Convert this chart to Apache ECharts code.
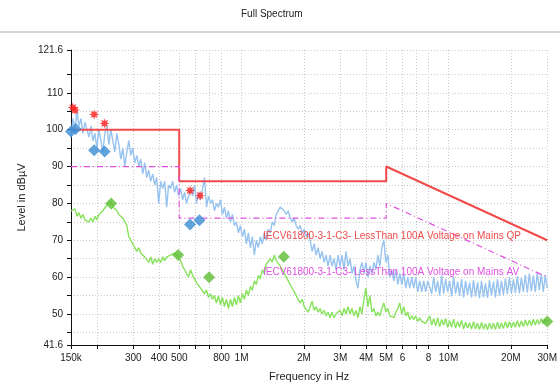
<!DOCTYPE html>
<html>
<head>
<meta charset="utf-8">
<script src="https://cdn.jsdelivr.net/npm/echarts@6/dist/echarts.min.js"></script>
<style>
  html, body { margin: 0; padding: 0; background: #fff; }
  #chart { width: 560px; height: 387px; }
</style>
</head>
<body>
<div id="chart"></div>
<script>
// receiver sweep: 240 points, log spaced from 150 kHz to 30 MHz
var sweepStart = 150000;
var sweepStop = 30000000;
var sweepCount = 240;

// peak detector trace (light blue), dBuV
var peakTrace = [
  98, 103, 100, 105, 101, 103, 99, 102, 100, 98,
  101, 97, 99, 95, 100, 97, 94, 99, 101, 96,
  100, 97, 94, 99, 96, 92, 95, 90, 94, 97,
  93, 95, 91, 93, 90, 92, 88, 91, 87, 89,
  86, 88, 85, 87, 80, 86, 84, 86, 79, 85,
  84, 86, 83, 85, 82, 84, 81, 83, 80, 82,
  84, 82, 85, 80, 83, 81, 84, 87, 79, 82,
  80, 81, 78, 80, 79, 81, 77, 79, 76, 78,
  75, 77, 74, 75, 72, 74, 71, 73, 69, 72,
  68, 71, 66, 70, 68, 71, 69, 72, 70, 73,
  72, 75, 74, 77, 78, 79, 79.5, 78, 77, 78,
  76, 75, 76, 74, 73, 74, 72, 73, 71, 72,
  70, 67, 69, 66, 68, 65, 67, 64, 66, 63,
  66, 63, 65, 62, 66, 63, 66, 62, 67, 63,
  65, 61, 63, 59, 57, 62, 64, 61, 64, 60,
  63, 61, 64, 62, 66, 63, 68, 70, 64, 66,
  60, 62, 59, 62, 58, 61, 58, 61, 57, 60,
  57, 60, 57, 60, 56, 59, 56, 59, 56, 59,
  59.5, 55.5, 60, 56, 59, 55, 60.5, 55.5, 59.5, 56,
  59, 54.8, 60, 55.5, 58.8, 55, 59.5, 54.5, 59, 55.2,
  58.5, 54.5, 59.2, 54.8, 58.6, 54.3, 59, 54.6, 58.4, 54.4,
  59.2, 55, 58.8, 54.5, 59.4, 55, 59, 55.2, 59.6, 55.4,
  60, 55.5, 59.4, 55.8, 60.2, 55.6, 59.8, 56, 60.6, 55.8,
  61, 56.2, 60.4, 56, 61.2, 56.5, 60.8, 56, 60.5, 57
];

// average detector trace (light green), dBuV
var avgTrace = [
  78, 77.5, 78.5, 76.5, 77.5, 76, 77, 75.5, 76, 75,
  76, 75, 76.5, 75.5, 77, 76.5, 78, 78.5, 79.5, 80,
  80.5, 79, 78.5, 78, 77, 77.5, 76, 75.5, 74, 71,
  70, 69.5, 68, 67, 68, 66.5, 67, 65.5, 66, 64,
  65.5, 63.5, 65, 64, 65, 64, 65.5, 64.5, 65.5, 65,
  66, 65.5, 66.5, 66, 65.5, 64.5, 63, 62, 61, 60,
  62, 60.5, 60.5, 58.5, 59, 57, 57.5, 55.5, 56.5, 54.5,
  55.5, 54, 55, 53, 55, 52.5, 54.5, 52, 54, 51.5,
  54, 52, 54.5, 52.5, 55, 53, 55.5, 54, 56.5, 55,
  57.5, 56.5, 59, 58, 60.5, 59.5, 62, 61, 63.5, 63,
  65, 64, 66, 64.5, 65, 63, 63, 61, 61.5, 59,
  59.5, 57, 57.5, 55, 55.5, 53, 54, 52, 52.5, 50.5,
  52, 53.5, 51, 52, 50.5, 51.5, 50, 51, 49.5, 50.5,
  49, 50.5, 49, 50, 49.5, 51, 49.5, 51.5, 50, 52,
  50, 51.5, 49.5, 51, 49, 52, 50, 54, 57, 52,
  55, 50.5, 51.5, 49.5, 50.5, 49.5, 51.5, 53, 50.5, 51.5,
  49.5, 50, 49, 50.5, 51.5, 53, 50, 52, 49.5, 50.5,
  48.5, 49.5, 48.5, 49.5, 48, 49, 48, 48.5, 47.5, 48.5,
  49.5, 47, 48.8, 46.8, 49, 46.5, 48.5, 47, 48.8, 46.4,
  48.2, 46.5, 48.6, 46.2, 48, 46.4, 48.3, 46, 47.8, 46.2,
  47.6, 45.9, 47.9, 46, 47.5, 45.8, 47.7, 45.9, 47.4, 45.7,
  47.6, 45.9, 47.5, 45.8, 47.8, 46, 47.6, 46.1, 47.9, 46.2,
  48, 46.3, 47.8, 46.4, 48.2, 46.5, 48.1, 46.6, 48.4, 46.8,
  48.3, 46.9, 48.6, 47, 48.5, 47.2, 48.8, 47.4, 48.6, 48
];

// IEC 61800-3 C3 (<100 A) limit lines
var limitFreq = [150000, 500000, 500000, 5000000, 5000000, 30000000];
var qpLimit = [100, 100, 86, 86, 90, 70];
var avLimit = [90, 90, 76, 76, 80, 60];

// final measurements
var qpFreq = [150000, 158000, 194000, 218000, 564000, 626000];
var qpLevel = [99.5, 100.2, 94.4, 94.1, 74.3, 75.4];
var peakFreq = [153000, 157000, 194000, 218000, 564000, 631000];
var peakLevel = [106, 105.3, 104.1, 101.7, 83.5, 82.1];
var avFreq = [234600, 494000, 697000, 1600000, 30000000];
var avLevel = [80, 66, 60, 65.5, 48];

// axes
var xTickFreq = [150000, 200000, 300000, 400000, 500000, 600000, 700000, 800000, 1000000,
  2000000, 3000000, 4000000, 5000000, 6000000, 7000000, 8000000, 10000000, 20000000, 30000000];
var xLabelFreq = [150000, 300000, 400000, 500000, 800000, 1000000, 2000000, 3000000,
  4000000, 5000000, 6000000, 8000000, 10000000, 20000000, 30000000];
var xLabelText = ['150k', '300', '400', '500', '800', '1M', '2M', '3M',
  '4M', '5M', '6', '8', '10M', '20M', '30M'];
var yTicks = [41.6, 45, 50, 55, 60, 65, 70, 75, 80, 85, 90, 95, 100, 105, 110, 115, 121.6];
var yLabels = [41.6, 50, 60, 70, 80, 90, 100, 110, 121.6];

var qpText = 'IECV61800-3-1-C3- LessThan 100A Voltage on Mains QP';
var avText = 'IECV61800-3-1-C3- LessThan 100A Voltage on Mains AV';

function lg(f) { return Math.log10(f); }

function pairs(freqs, levels) {
    return freqs.map(function (f, i) { return [lg(f), levels[i]]; });
}

var sweepFreq = [];
for (var i = 0; i < sweepCount; i++) {
    sweepFreq.push(sweepStart * Math.pow(sweepStop / sweepStart, i / (sweepCount - 1)));
}

// asterisk-like marker for peak values
function starPath(n, r1, r2) {
    var s = '';
    for (var k = 0; k < 2 * n; k++) {
        var a = Math.PI * k / n;
        var r = k % 2 ? r2 : r1;
        s += (k ? 'L' : 'M') + (10 + r * Math.sin(a)).toFixed(2) + ' ' + (10 - r * Math.cos(a)).toFixed(2) + ' ';
    }
    return 'path://' + s + 'Z';
}

var fontName = 'Liberation Sans, Arial, sans-serif';
var myChart = echarts.init(document.getElementById('chart'), null, {renderer: 'canvas'});

var option = {
    animation: false,
    backgroundColor: '#fff',
    textStyle: {fontFamily: fontName},
    title: {
        text: 'Full Spectrum',
        left: 236,
        top: 4,
        textStyle: {fontSize: 10, fontWeight: 'normal', color: '#222'}
    },
    graphic: [
        {
            type: 'rect',
            shape: {x: 0, y: 31, width: 560, height: 2},
            style: {fill: '#d6d6d6'},
            silent: true
        },
        {
            type: 'text',
            left: 263,
            top: 231,
            z: 20,
            style: {text: qpText, fill: '#ee4a4a', fontSize: 10, fontFamily: fontName}
        },
        {
            type: 'text',
            left: 263,
            top: 267,
            z: 20,
            style: {text: avText, fill: '#e050e0', fontSize: 10, fontFamily: fontName}
        }
    ],
    grid: {
        left: 71,
        right: 12,
        top: 50,
        bottom: 38,
        containLabel: false
    },
    xAxis: {
        type: 'value',
        min: lg(sweepStart),
        max: lg(sweepStop),
        name: 'Frequency in Hz',
        nameLocation: 'middle',
        nameGap: 26,
        nameTextStyle: {fontSize: 11, color: '#222'},
        axisLine: {lineStyle: {color: '#111', width: 1}},
        axisTick: {
            customValues: xTickFreq.map(lg),
            length: 4,
            lineStyle: {color: '#111'}
        },
        axisLabel: {
            customValues: xLabelFreq.map(lg),
            showMinLabel: true,
            showMaxLabel: true,
            hideOverlap: false,
            fontSize: 10,
            color: '#222',
            margin: 8,
            formatter: function (v) {
                for (var k = 0; k < xLabelFreq.length; k++) {
                    if (Math.abs(lg(xLabelFreq[k]) - v) < 1e-6) return xLabelText[k];
                }
                return '';
            }
        },
        splitLine: {
            show: true,
            lineStyle: {color: '#c8c8c8', type: [1, 2], width: 1}
        }
    },
    yAxis: {
        type: 'value',
        min: 41.6,
        max: 121.6,
        name: 'Level in dBµV',
        nameLocation: 'middle',
        nameGap: 40,
        nameTextStyle: {fontSize: 11, color: '#222'},
        axisLine: {show: true, lineStyle: {color: '#111', width: 1}},
        axisTick: {
            show: true,
            customValues: yTicks,
            length: 4,
            lineStyle: {color: '#111'}
        },
        axisLabel: {
            customValues: yLabels,
            showMinLabel: true,
            showMaxLabel: true,
            fontSize: 10,
            color: '#222',
            margin: 8
        },
        splitLine: {
            show: true,
            lineStyle: {color: '#c8c8c8', type: [1, 2], width: 1}
        }
    },
    series: [
        {
            name: 'peak',
            type: 'line',
            data: pairs(sweepFreq, peakTrace),
            symbol: 'none',
            lineStyle: {color: '#97c3f0', width: 1.4},
            z: 2
        },
        {
            name: 'average',
            type: 'line',
            data: pairs(sweepFreq, avgTrace),
            symbol: 'none',
            lineStyle: {color: '#88e35c', width: 1.4},
            z: 2
        },
        {
            name: 'QP limit',
            type: 'line',
            data: pairs(limitFreq, qpLimit),
            symbol: 'none',
            lineStyle: {color: '#f04a4a', width: 2},
            z: 4
        },
        {
            name: 'AV limit',
            type: 'line',
            data: pairs(limitFreq, avLimit),
            symbol: 'none',
            lineStyle: {color: '#e050e0', width: 1.2, type: [6, 3, 1, 3]},
            z: 4
        },
        {
            name: 'QP final',
            type: 'scatter',
            data: pairs(qpFreq, qpLevel),
            symbol: 'diamond',
            symbolSize: 12,
            itemStyle: {color: '#3a8cd4'},
            z: 6
        },
        {
            name: 'peak final',
            type: 'scatter',
            data: pairs(peakFreq, peakLevel),
            symbol: starPath(8, 6, 3),
            symbolSize: 10,
            itemStyle: {color: '#ff1a1a'},
            z: 6
        },
        {
            name: 'AV final',
            type: 'scatter',
            data: pairs(avFreq, avLevel),
            symbol: 'diamond',
            symbolSize: 12,
            itemStyle: {color: '#5cbe34'},
            z: 6
        }
    ]
};

myChart.setOption(option);
</script>
</body>
</html>
